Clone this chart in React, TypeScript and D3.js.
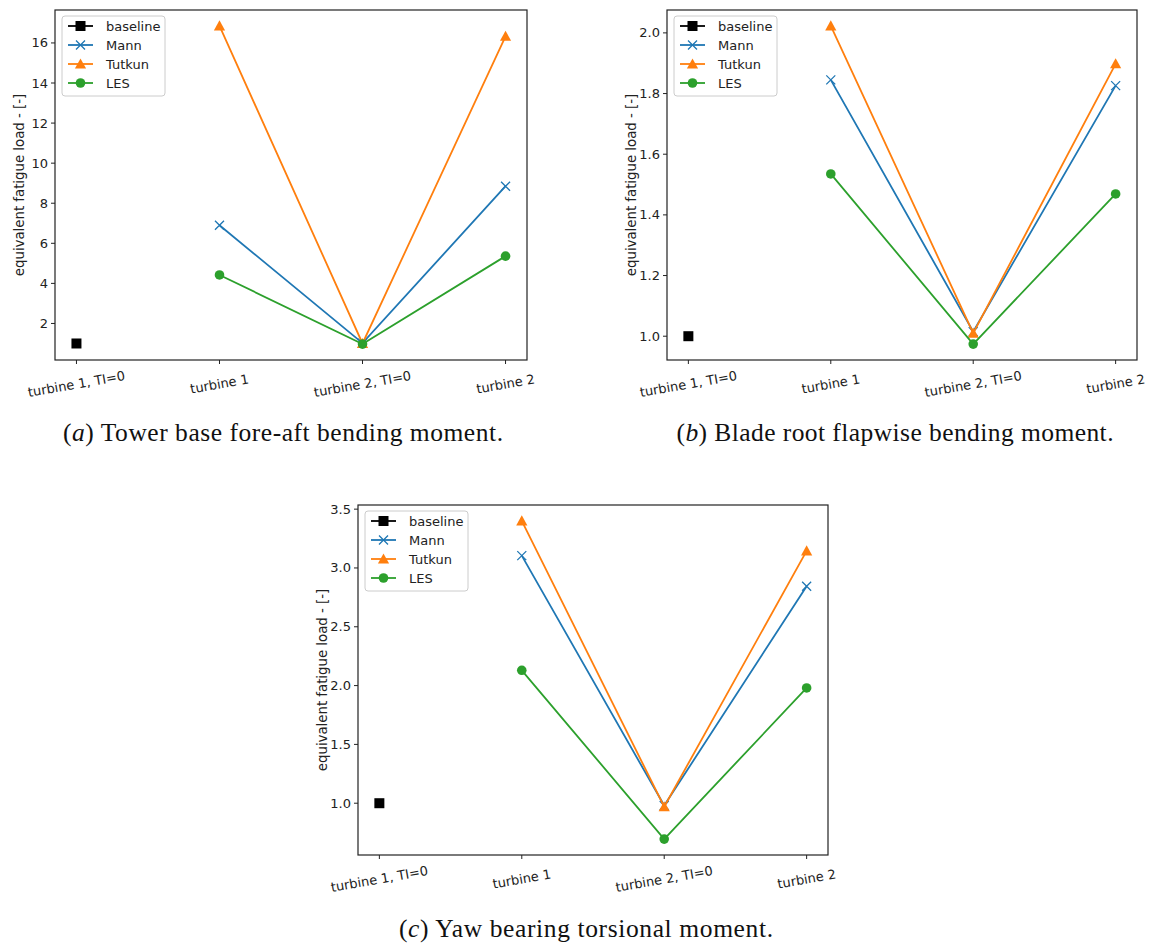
import React from "react";
import * as d3 from "d3";

// Load cases along the x axis
const categories = ["turbine 1, TI=0", "turbine 1", "turbine 2, TI=0", "turbine 2"];

// Tower base fore-aft bending moment
const towerBaseline = [1.0, NaN, NaN, NaN];
const towerMann = [NaN, 6.9, 1.02, 8.85];
const towerTutkun = [NaN, 16.85, 1.0, 16.33];
const towerLES = [NaN, 4.42, 0.97, 5.36];
const towerTicks = [2, 4, 6, 8, 10, 12, 14, 16];

// Blade root flapwise bending moment
const bladeBaseline = [1.0, NaN, NaN, NaN];
const bladeMann = [NaN, 1.845, 1.015, 1.826];
const bladeTutkun = [NaN, 2.023, 1.01, 1.898];
const bladeLES = [NaN, 1.535, 0.974, 1.469];
const bladeTicks = [1.0, 1.2, 1.4, 1.6, 1.8, 2.0];

// Yaw bearing torsional moment
const yawBaseline = [1.0, NaN, NaN, NaN];
const yawMann = [NaN, 3.105, 0.98, 2.845];
const yawTutkun = [NaN, 3.4, 0.97, 3.145];
const yawLES = [NaN, 2.13, 0.695, 1.98];
const yawTicks = [1.0, 1.5, 2.0, 2.5, 3.0, 3.5];

const seriesNames = ["baseline", "Mann", "Tutkun", "LES"];
const seriesColors = ["#000000", "#1f77b4", "#ff7f0e", "#2ca02c"];
const seriesMarkers = ["square", "x", "triangle", "circle"];

const FONT = "DejaVu Sans, sans-serif";

function Marker({ kind, x, y, color }: { kind: string; x: number; y: number; color: string }) {
  if (kind === "square") {
    return <rect x={x - 5} y={y - 5} width={10} height={10} fill={color} />;
  }
  if (kind === "x") {
    const s = 4.5;
    return (
      <path
        d={`M${x - s},${y - s}L${x + s},${y + s}M${x - s},${y + s}L${x + s},${y - s}`}
        stroke={color}
        strokeWidth={1.3}
        fill="none"
      />
    );
  }
  if (kind === "triangle") {
    const s = 5.6;
    return <path d={`M${x},${y - s}L${x + s},${y + s * 0.8}L${x - s},${y + s * 0.8}Z`} fill={color} />;
  }
  return <circle cx={x} cy={y} r={4.8} fill={color} />;
}

type PanelProps = {
  left: number;
  top: number;
  width: number;
  height: number;
  series: number[][];
  ticks: number[];
  decimals: number;
};

function Panel({ left, top, width, height, series, ticks, decimals }: PanelProps) {
  const all = series.flat().filter((v) => !isNaN(v));
  const lo = d3.min(all)!;
  const hi = d3.max(all)!;
  const pad = (hi - lo) * 0.05;
  const y = d3.scaleLinear().domain([lo - pad, hi + pad]).range([top + height, top]);
  const x = d3
    .scaleLinear()
    .domain([-0.15, categories.length - 1 + 0.15])
    .range([left, left + width]);
  const bottom = top + height;
  const fmt = d3.format(`.${decimals}f`);

  return (
    <g>
      {/* series lines and markers */}
      {series.map((vals, si) => {
        const line = d3
          .line<number>()
          .defined((v) => !isNaN(v))
          .x((_, i) => x(i))
          .y((v) => y(v));
        return (
          <g key={si}>
            <path d={line(vals) || ""} fill="none" stroke={seriesColors[si]} strokeWidth={1.8} />
            {vals.map((v, i) =>
              isNaN(v) ? null : (
                <Marker key={i} kind={seriesMarkers[si]} x={x(i)} y={y(v)} color={seriesColors[si]} />
              )
            )}
          </g>
        );
      })}

      {/* frame */}
      <rect x={left} y={top} width={width} height={height} fill="none" stroke="#222" strokeWidth={1.2} />

      {/* y axis */}
      {ticks.map((t) => (
        <g key={t}>
          <line x1={left - 4} x2={left} y1={y(t)} y2={y(t)} stroke="#222" strokeWidth={1} />
          <text
            x={left - 7}
            y={y(t)}
            textAnchor="end"
            dominantBaseline="central"
            fontFamily={FONT}
            fontSize={13}
            fill="#222"
          >
            {fmt(t)}
          </text>
        </g>
      ))}
      <text
        transform={`translate(${left - 36},${top + height / 2}) rotate(-90)`}
        textAnchor="middle"
        dominantBaseline="central"
        fontFamily={FONT}
        fontSize={13.3}
        fill="#222"
      >
        equivalent fatigue load - [-]
      </text>

      {/* x axis */}
      {categories.map((c, i) => (
        <g key={c}>
          <line x1={x(i)} x2={x(i)} y1={bottom} y2={bottom + 4} stroke="#222" strokeWidth={1} />
          <text
            transform={`translate(${x(i)},${bottom + 24}) rotate(-10)`}
            textAnchor="middle"
            dominantBaseline="central"
            fontFamily={FONT}
            fontSize={13}
            fill="#222"
          >
            {c}
          </text>
        </g>
      ))}

      {/* legend */}
      <g transform={`translate(${left + 7},${top + 6})`}>
        <rect x={0} y={0} width={103} height={80} rx={3} fill="#fff" fillOpacity={0.85} stroke="#ccc" />
        {seriesNames.map((n, si) => (
          <g key={n} transform={`translate(0,${10 + si * 19})`}>
            <line x1={6} x2={31} y1={0} y2={0} stroke={seriesColors[si]} strokeWidth={1.8} />
            <Marker kind={seriesMarkers[si]} x={18.5} y={0} color={seriesColors[si]} />
            <text x={44} y={0} dominantBaseline="central" fontFamily={FONT} fontSize={13} fill="#222">
              {n}
            </text>
          </g>
        ))}
      </g>
    </g>
  );
}

function Caption({ x, y, letter, text, width }: { x: number; y: number; letter: string; text: string; width: number }) {
  return (
    <text
      x={x}
      y={y}
      textAnchor="middle"
      fontFamily="Liberation Serif, serif"
      fontSize={25.5}
      fill="#111"
      textLength={width}
      lengthAdjust="spacing"
    >
      (<tspan fontStyle="italic">{letter}</tspan>) {text}
    </text>
  );
}

export default function App() {
  return (
    <svg
      width={1152}
      height={945}
      viewBox="0 0 1152 945"
      style={{ position: "absolute", left: 0, top: 0, background: "#fff" }}
    >
      <rect width={1152} height={945} fill="#fff" />
      <Panel
        left={55}
        top={10}
        width={472}
        height={350}
        series={[towerBaseline, towerMann, towerTutkun, towerLES]}
        ticks={towerTicks}
        decimals={0}
      />
      <Panel
        left={667}
        top={10}
        width={470}
        height={350}
        series={[bladeBaseline, bladeMann, bladeTutkun, bladeLES]}
        ticks={bladeTicks}
        decimals={1}
      />
      <Panel
        left={358}
        top={505}
        width={470}
        height={350}
        series={[yawBaseline, yawMann, yawTutkun, yawLES]}
        ticks={yawTicks}
        decimals={1}
      />
      <Caption x={283} y={441} letter="a" text="Tower base fore-aft bending moment." width={440} />
      <Caption x={895} y={441} letter="b" text="Blade root flapwise bending moment." width={437} />
      <Caption x={586} y={937} letter="c" text="Yaw bearing torsional moment." width={374} />
    </svg>
  );
}
